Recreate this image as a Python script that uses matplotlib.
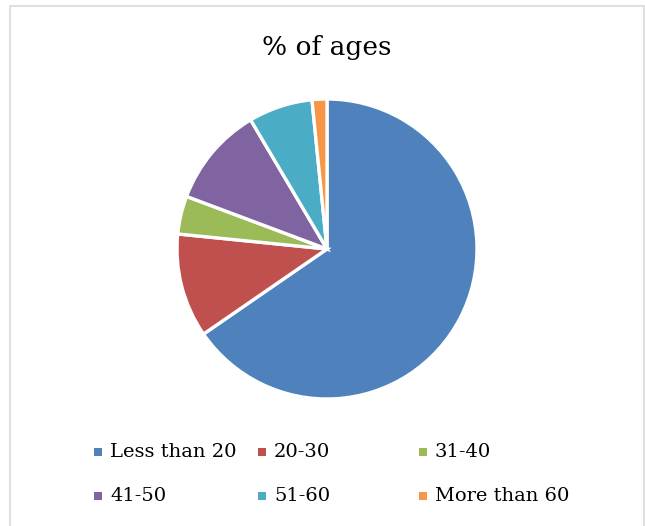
import matplotlib
matplotlib.use("Agg")
import matplotlib.pyplot as plt
from matplotlib.patches import Rectangle

# age groups and their share (%)
labels = ["Less than 20", "20-30", "31-40", "41-50", "51-60", "More than 60"]
shares = [65.4, 11.2, 4.1, 10.8, 6.9, 1.6]
colors = ["#4F81BD", "#C0504D", "#9BBB59", "#8064A2", "#4BACC6", "#F79646"]

W, H = 645, 526
fig = plt.figure(figsize=(W / 100, H / 100), dpi=100)
plt.rcParams['font.family'] = ['DejaVu Serif']

# chart frame
fig.patches.append(Rectangle((10 / W, -0.05), 634 / W, 1 - 6 / H + 0.05,
                             transform=fig.transFigure, fill=False,
                             edgecolor="#D9D9D9", linewidth=1.2))

# pie centred at (327, 249) px, radius 150 px
cx, cy, r = 327, 249, 150
ax = fig.add_axes([(cx - r) / W, (H - cy - r) / H, 2 * r / W, 2 * r / H])
ax.pie(shares, colors=colors, startangle=90, counterclock=False,
       wedgeprops=dict(edgecolor="white", linewidth=2.4))
ax.set_xlim(-1, 1)
ax.set_ylim(-1, 1)
ax.set_aspect("equal")
ax.axis("off")

fig.text(cx / W, 1 - 48 / H, "% of ages", ha="center", va="center",
         fontsize=19, color="#000000")

# legend: 3 columns, 2 rows
col_x = [98, 262, 423]
row_y = [452, 496]
sq = 8
for i, (lab, col) in enumerate(zip(labels, colors)):
    x = col_x[i % 3]
    y = row_y[i // 3]
    fig.patches.append(Rectangle(((x - sq / 2) / W, 1 - (y + sq / 2) / H), sq / W, sq / H,
                                 transform=fig.transFigure, facecolor=col, edgecolor="none"))
    fig.text((x + 12) / W, 1 - y / H, lab, ha="left", va="center",
             fontsize=14, color="#000000")

fig.savefig("out.png", dpi=100)
